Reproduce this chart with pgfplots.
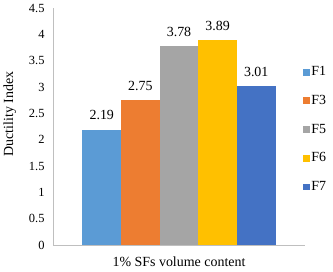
\documentclass[border=0pt]{standalone}
\usepackage{fontspec}
\setmainfont{Liberation Serif}
\usepackage{pgfplots}
\pgfplotsset{compat=1.18}
\definecolor{cA}{HTML}{5B9BD5}
\definecolor{cB}{HTML}{ED7D31}
\definecolor{cC}{HTML}{A5A5A5}
\definecolor{cD}{HTML}{FFC000}
\definecolor{cE}{HTML}{4472C4}
\definecolor{axc}{HTML}{BFBFBF}
\begin{document}
\begin{tikzpicture}
\path[use as bounding box] (-53bp,-27bp) rectangle (280bp,245bp);
\begin{axis}[
  scale only axis, width=252bp, height=237bp,
  xmin=-1, xmax=1, ymin=0, ymax=4.5,
  ytick={0,0.5,1,1.5,2,2.5,3,3.5,4,4.5},
  xtick=\empty,
  axis lines=left,
  axis line style={draw=axc, line width=0.8pt, -},
  major tick length=0pt,
  /pgf/number format/assume math mode=true,
  /pgf/number format/fixed,
  tick label style={font=\fontsize{12.5}{14}\selectfont},
  yticklabel style={xshift=-5bp},
  ybar=0pt, bar width=0.3065,
  nodes near coords,
  every node near coord/.append style={font=\fontsize{14}{16}\selectfont, yshift=6bp, text=black},
  xlabel={1\% SFs volume content},
  xlabel style={at={(axis description cs:0.5,0)}, anchor=base, yshift=-21.5bp, font=\fontsize{14}{16}\selectfont},
  ylabel={Ductility Index},
  ylabel style={at={(axis description cs:-0.171,0.553)}, anchor=center, font=\fontsize{14}{16}\selectfont},
  legend style={draw=none, fill=none, inner sep=0pt, at={(axis description cs:0.992,0.764)}, anchor=north west,
    font=\fontsize{14}{16}\selectfont, nodes={inner sep=1.5bp, text height=10bp, text depth=3bp}, row sep=12.7bp},
  legend cell align=left,
  legend image code/.code={\fill[#1] (0bp,-3.4bp) rectangle (6.7bp,3.4bp);},
]
\addplot[fill=cA, draw=none] coordinates {(0,2.19)};
\addplot[fill=cB, draw=none] coordinates {(0,2.75)};
\addplot[fill=cC, draw=none] coordinates {(0,3.78)};
\addplot[fill=cD, draw=none] coordinates {(0,3.89)};
\addplot[fill=cE, draw=none] coordinates {(0,3.01)};
\legend{F1,F3,F5,F6,F7}
\end{axis}
\end{tikzpicture}
\end{document}
